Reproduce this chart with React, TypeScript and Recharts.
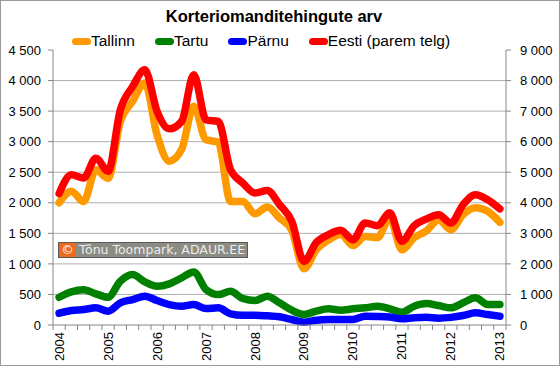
import React from 'react';
import { LineChart, Line, XAxis, YAxis, CartesianGrid } from 'recharts';

// quarterly data 2004 Q1 .. 2013 Q1
const years = ['2004', '2005', '2006', '2007', '2008', '2009', '2010', '2011', '2012', '2013'];
const quarters = years.flatMap((y) => ['I', 'II', 'III', 'IV'].map((q) => `${y} ${q}`)).slice(0, 37);

const tallinn = [2000, 2190, 2020, 2540, 2400, 3330, 3660, 3960, 3110, 2680, 2870, 3580, 3030, 2990, 2020, 2020, 1820, 1930, 1750, 1550, 920, 1230, 1390, 1480, 1300, 1450, 1430, 1750, 1230, 1430, 1540, 1720, 1560, 1810, 1920, 1860, 1680];
const tartu = [454, 542, 575, 510, 454, 716, 825, 706, 634, 673, 771, 869, 580, 498, 552, 433, 400, 471, 363, 242, 172, 226, 265, 242, 265, 281, 307, 265, 210, 307, 350, 318, 281, 363, 444, 335, 335];
const parnu = [193, 237, 253, 281, 226, 363, 417, 471, 400, 335, 307, 335, 270, 281, 183, 160, 160, 150, 134, 90, 46, 78, 90, 90, 90, 144, 140, 130, 101, 118, 125, 112, 125, 155, 199, 172, 144];
const eesti = [4300, 4920, 4810, 5460, 5030, 7040, 7800, 8350, 6990, 6420, 6660, 8190, 6710, 6660, 5080, 4650, 4320, 4400, 3940, 3400, 2080, 2700, 2960, 3100, 2790, 3340, 3250, 3670, 2740, 3250, 3470, 3610, 3340, 3940, 4260, 4100, 3800];

const leftTicks = [0, 500, 1000, 1500, 2000, 2500, 3000, 3500, 4000, 4500];
const rightTicks = [0, 1000, 2000, 3000, 4000, 5000, 6000, 7000, 8000, 9000];

const data = quarters.map((q, i) => ({
  i,
  q,
  tallinn: tallinn[i],
  tartu: tartu[i],
  parnu: parnu[i],
  eesti: eesti[i],
}));

// year labels sit on Q1 points, small marks on category boundaries
const yearTicks = years.map((_, k) => k * 4);
const boundaryTicks = Array.from({ length: quarters.length + 1 }, (_, k) => k - 0.5);
const xTicks = [...boundaryTicks, ...yearTicks].sort((a, b) => a - b);

const series = [
  { key: 'tallinn', name: 'Tallinn', color: '#FF9900', axis: 'left' },
  { key: 'tartu', name: 'Tartu', color: '#008000', axis: 'left' },
  { key: 'parnu', name: 'Pärnu', color: '#0000FF', axis: 'left' },
  { key: 'eesti', name: 'Eesti (parem telg)', color: '#FF0000', axis: 'right' },
];

const FONT = '"Liberation Sans", Arial, sans-serif';
const AXIS = '#868686';

const fmt = (v: number) =>
  v >= 1000 ? `${Math.floor(v / 1000)} ${String(v % 1000).padStart(3, '0')}` : String(v);

function XTick(props: any) {
  const { x, y, payload } = props;
  const v = payload.value;
  if (Number.isInteger(v)) {
    const ty = y + 7;
    return (
      <text
        x={x}
        y={ty}
        transform={`rotate(-90, ${x}, ${ty})`}
        textAnchor="end"
        dominantBaseline="central"
        fontSize={13}
        fontFamily={FONT}
        fill="#000"
      >
        {years[v / 4]}
      </text>
    );
  }
  return <line x1={x} x2={x} y1={y} y2={y + 5} stroke={AXIS} />;
}

export default function App() {
  return (
    <div style={{ position: 'absolute', left: 0, top: 0, width: 560, height: 366, background: '#fff' }}>
      <div
        style={{
          position: 'absolute',
          left: 0,
          top: 0,
          width: 560,
          height: 366,
          boxSizing: 'border-box',
          border: '1px solid #9a9a9a',
          pointerEvents: 'none',
          zIndex: 3,
        }}
      />
      <div
        style={{
          position: 'absolute',
          top: 7,
          left: 0,
          width: 548,
          textAlign: 'center',
          fontFamily: FONT,
          fontWeight: 'bold',
          fontSize: 16.5,
          color: '#000',
        }}
      >
        Korteriomanditehingute arv
      </div>
      <div
        style={{
          position: 'absolute',
          top: 32,
          left: 72,
          display: 'flex',
          alignItems: 'center',
          fontFamily: FONT,
          fontSize: 15.5,
          color: '#000',
        }}
      >
        {series.map((s) => (
          <div key={s.key} style={{ display: 'flex', alignItems: 'center', marginRight: 20 }}>
            <span style={{ width: 19, height: 7, borderRadius: 4, background: s.color, display: 'inline-block' }} />
            <span>{s.name}</span>
          </div>
        ))}
      </div>
      <LineChart width={560} height={366} data={data} margin={{ top: 50, right: 0, bottom: 0, left: 0 }}>
        <CartesianGrid
          vertical={false}
          horizontalValues={[500, 1000, 1500, 2000, 2500, 3000, 3500, 4000]}
          stroke="#b0b0b0"
          yAxisId="left"
          xAxisId="x"
        />
        <XAxis
          xAxisId="x"
          dataKey="i"
          type="number"
          domain={[-0.5, 36.5]}
          ticks={xTicks}
          interval={0}
          height={41}
          tickSize={0}
          tickMargin={0}
          tickLine={false}
          axisLine={{ stroke: AXIS }}
          tick={<XTick />}
          allowDataOverflow
        />
        <YAxis
          yAxisId="left"
          domain={[0, 4500]}
          ticks={leftTicks}
          interval={0}
          width={53}
          tickSize={5}
          tickMargin={7}
          tickFormatter={fmt}
          axisLine={{ stroke: AXIS }}
          tickLine={{ stroke: AXIS }}
          tick={{ fill: '#000', fontSize: 13, fontFamily: FONT }}
        />
        <YAxis
          yAxisId="right"
          orientation="right"
          domain={[0, 9000]}
          ticks={rightTicks}
          interval={0}
          width={54}
          tickSize={5}
          tickMargin={9}
          tickFormatter={fmt}
          axisLine={{ stroke: AXIS }}
          tickLine={{ stroke: AXIS }}
          tick={{ fill: '#000', fontSize: 13, fontFamily: FONT, textAnchor: 'start' }}
        />
        {series.map((s) => (
          <Line
            key={s.key}
            xAxisId="x"
            yAxisId={s.axis}
            dataKey={s.key}
            name={s.name}
            type="monotone"
            stroke={s.color}
            strokeWidth={7.5}
            strokeLinecap="round"
            strokeLinejoin="round"
            dot={false}
            activeDot={false}
            isAnimationActive={false}
          />
        ))}
      </LineChart>
      <div
        style={{
          position: 'absolute',
          left: 58,
          top: 242,
          height: 14,
          display: 'flex',
          alignItems: 'stretch',
          border: '1px solid #5a5a5a',
          background: '#8c8c84',
          fontFamily: '"DejaVu Sans", Verdana, sans-serif',
          fontSize: 12.5,
          lineHeight: '14px',
          color: '#ececec',
        }}
      >
        <span style={{ background: '#EE6A1E', color: '#fff', width: 17, textAlign: 'center' }}>©</span>
        <span style={{ padding: '0 2px 0 3px' }}>Tõnu Toompark, ADAUR.EE</span>
      </div>
    </div>
  );
}
